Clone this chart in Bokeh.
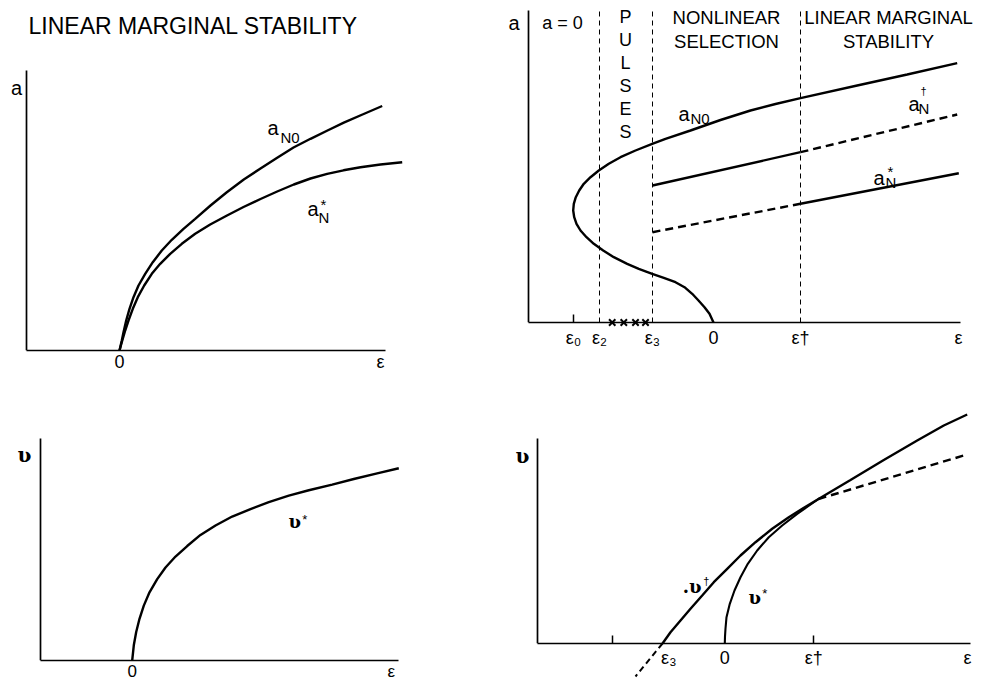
from bokeh.plotting import figure
from bokeh.models import Range1d, FixedTicker, Label
from bokeh.layouts import column, row
from bokeh.embed import file_html
from bokeh.resources import INLINE

# ---------------- data (schematic units) ----------------
# Panel A (top left): linear marginal stability
A_EPS_AXIS = (-0.93, 2.66)
A_AMP_TOP = 2.80
A_TICKS = [0.0, 2.61]
A_TICK_LABELS = ["0", "ε"]
A_N0_EPS = [0, 0.023, 0.04, 0.067, 0.10, 0.14, 0.19, 0.257, 0.333, 0.423, 0.523, 0.64,
            0.757, 0.91, 1.07, 1.243, 1.41, 1.577, 1.74, 1.91, 2.08, 2.243, 2.43, 2.627]
A_N0_AMP = [0, 0.10, 0.183, 0.30, 0.417, 0.533, 0.65, 0.767, 0.883, 1.00, 1.107, 1.217,
            1.317, 1.45, 1.58, 1.71, 1.82, 1.928, 2.03, 2.117, 2.20, 2.278, 2.36, 2.445]
A_NS_EPS = [0, 0.025, 0.057, 0.09, 0.133, 0.183, 0.247, 0.323, 0.407, 0.507, 0.623, 0.757,
            0.907, 1.075, 1.24, 1.41, 1.577, 1.743, 1.91, 2.077, 2.24, 2.41, 2.61, 2.827]
A_NS_AMP = [0, 0.09, 0.20, 0.30, 0.417, 0.533, 0.65, 0.767, 0.867, 0.967, 1.067, 1.167,
            1.26, 1.35, 1.435, 1.515, 1.59, 1.66, 1.72, 1.767, 1.802, 1.833, 1.86, 1.883]

# Panel B (top right): phase diagram
B_EPS_AXIS = (-1.85, 2.47)
B_AMP_TOP = 3.12
EPS0, EPS2, EPS3, EPS_DAG, EPS_END = -1.40, -1.14, -0.61, 0.87, 2.45
B_TICKS = [EPS0, EPS2, EPS3, 0.0, EPS_DAG, EPS_END]
B_TICK_LABELS = ["ε₀", "ε₂", "ε₃", "0", "ε†", "ε"]
B_DASHED_AT = [EPS2, EPS3, EPS_DAG]
B_CROSS_EPS = [-1.013, -0.897, -0.78, -0.68]
B_N0_EPS = [0, -0.04, -0.09, -0.15, -0.213, -0.29, -0.38, -0.497, -0.613, -0.747,
            -0.863, -0.997, -1.103, -1.197, -1.27, -1.33, -1.37, -1.393, -1.403, -1.397,
            -1.377, -1.343, -1.297, -1.23, -1.147, -1.047, -0.93, -0.78, -0.613, -0.48,
            -0.23, 0.07, 0.37, 0.62, 0.87, 1.437, 1.937, 2.437]
B_N0_AMP = [0, 0.087, 0.153, 0.22, 0.287, 0.353, 0.403, 0.447, 0.487, 0.537,
            0.587, 0.653, 0.72, 0.787, 0.853, 0.92, 0.987, 1.053, 1.12, 1.187,
            1.253, 1.32, 1.387, 1.453, 1.52, 1.587, 1.653, 1.72, 1.787, 1.837,
            1.92, 2.025, 2.12, 2.185, 2.243, 2.37, 2.48, 2.593]
B_DAG_EPS = [EPS3, EPS_DAG, 2.437]
B_DAG_AMP = [1.37, 1.703, 2.08]
B_STAR_EPS = [EPS3, EPS_DAG, 2.453]
B_STAR_AMP = [0.903, 1.187, 1.493]

# Panel C (bottom left): front velocity v*
C_EPS_AXIS = (-0.917, 2.666)
C_V_TOP = 2.237
C_TICKS = [0.0, 2.59]
C_TICK_LABELS = ["0", "ε"]
C_VS_EPS = [0, 0.016, 0.04, 0.073, 0.116, 0.173, 0.25, 0.333, 0.433, 0.55, 0.683, 0.833,
            1.0, 1.183, 1.366, 1.566, 1.766, 2.0, 2.216, 2.45, 2.666]
C_VS_V = [0, 0.153, 0.287, 0.42, 0.553, 0.687, 0.82, 0.937, 1.047, 1.153, 1.265, 1.36,
          1.45, 1.525, 1.595, 1.66, 1.715, 1.772, 1.828, 1.885, 1.937]

# Panel D (bottom right): front velocities v-dagger and v-star
D_EPS_AXIS = (-1.87, 2.457)
D_V_TOP = 2.047
D_TICKS = [-0.56, 0.0, 0.89, 2.427]
D_TICK_LABELS = ["ε₃", "0", "ε†", "ε"]
D_MINOR_TICKS = [-1.126, 0.89]
D_DAG_EPS = [-0.623, -0.543, -0.443, -0.343, -0.226, -0.11, 0.024, 0.157, 0.307, 0.474,
             0.64, 0.787, 0.937, 1.257, 1.59, 1.924, 2.19, 2.424]
D_DAG_V = [0, 0.113, 0.23, 0.347, 0.48, 0.613, 0.747, 0.88, 1.013, 1.147,
           1.263, 1.355, 1.445, 1.635, 1.835, 2.03, 2.18, 2.29]
D_TAIL_EPS = [-0.623, -0.893]
D_TAIL_V = [0.0, -0.33]
D_STAR_EPS = [0, 0.002, 0.007, 0.017, 0.05, 0.097, 0.157, 0.23, 0.324, 0.44, 0.574,
              0.724, 0.837, 0.937]
D_STAR_V = [0, 0.07, 0.15, 0.263, 0.397, 0.53, 0.663, 0.797, 0.93, 1.063, 1.18,
            1.297, 1.375, 1.445]
D_STAR_EXT_EPS = [0.937, 2.39]
D_STAR_EXT_V = [1.445, 1.88]

FONT = "Liberation Sans"
SERIF = "DejaVu Serif"
LW = 2.4
BORDER_L = 10


def make_fig(w, h, xr, yr, bottom):
    p = figure(width=w, height=h, x_range=Range1d(*xr), y_range=Range1d(*yr),
               output_backend="svg", toolbar_location=None,
               min_border_left=BORDER_L, min_border_bottom=bottom,
               min_border_top=0, min_border_right=0)
    p.grid.visible = False
    p.outline_line_color = None
    p.background_fill_color = "white"
    p.border_fill_color = "white"
    return p


def style_axes(p, ticks, labels, xbounds, ytop, yaxis_at, standoff, minor=None, size="18px"):
    xa = p.xaxis[0]
    xa.ticker = FixedTicker(ticks=ticks, minor_ticks=minor or [])
    xa.major_label_overrides = {t: l for t, l in zip(ticks, labels)}
    xa.bounds = xbounds
    xa.axis_line_width = 1.7
    xa.axis_line_color = "black"
    xa.major_tick_in = 0
    xa.major_tick_out = 0
    xa.minor_tick_in = 8
    xa.minor_tick_out = 0
    xa.minor_tick_line_width = 1.5
    xa.minor_tick_line_color = "black"
    xa.major_label_standoff = standoff
    xa.major_label_text_font = FONT
    xa.major_label_text_font_size = size
    xa.major_label_text_color = "black"
    ya = p.yaxis[0]
    ya.fixed_location = yaxis_at
    ya.ticker = FixedTicker(ticks=[])
    ya.bounds = (0, ytop)
    ya.axis_line_width = 1.7
    ya.axis_line_color = "black"
    ya.major_tick_in = 0
    ya.major_tick_out = 0
    ya.minor_tick_in = 0
    ya.minor_tick_out = 0
    ya.major_label_standoff = 0


def line(p, x, y, dash="solid", lw=LW):
    p.line(x, y, line_width=lw, color="black", line_dash=dash, level="overlay")


def lab(p, x, y, text, size, font=FONT, align="left", baseline="alphabetic",
        style="normal", lh=1.2):
    p.add_layout(Label(x=x, y=y, text=text, text_font=font, text_font_size=f"{size}px",
                       text_align=align, text_baseline=baseline, text_font_style=style,
                       text_color="black", text_line_height=lh))


# ---------------- Panel A ----------------
pA = make_fig(490, 388, (-1.09, 3.71), (0.0, 3.50), 38)
style_axes(pA, A_TICKS, A_TICK_LABELS, A_EPS_AXIS, A_AMP_TOP, A_EPS_AXIS[0], 1)
line(pA, A_N0_EPS, A_N0_AMP)
line(pA, A_NS_EPS, A_NS_AMP)
lab(pA, -0.91, 3.25, "LINEAR MARGINAL STABILITY", 23)
lab(pA, -1.085, 2.63, "a", 20)
lab(pA, 1.48, 2.23, "a", 20)
lab(pA, 1.61, 2.13, "N0", 15)
lab(pA, 1.88, 1.42, "a", 20)
lab(pA, 2.01, 1.46, "*", 15)
lab(pA, 1.99, 1.33, "N", 15)

# ---------------- Panel B ----------------
pB = make_fig(490, 360, (-2.13, 2.67), (0.0, 3.22), 38)
style_axes(pB, B_TICKS, B_TICK_LABELS, B_EPS_AXIS, B_AMP_TOP, B_EPS_AXIS[0], 5, minor=[EPS0])
pB.segment(x0=B_DASHED_AT, y0=[0.0] * 3, x1=B_DASHED_AT, y1=[B_AMP_TOP] * 3,
           line_dash="5 4", line_width=1, color="black", level="overlay")
line(pB, B_N0_EPS, B_N0_AMP)
line(pB, B_DAG_EPS[:2], B_DAG_AMP[:2])
line(pB, B_DAG_EPS[1:], B_DAG_AMP[1:], dash="8 5")
line(pB, B_STAR_EPS[:2], B_STAR_AMP[:2], dash="8 5")
line(pB, B_STAR_EPS[1:], B_STAR_AMP[1:])
pB.scatter(B_CROSS_EPS, [0.0] * 4, marker="x", size=9, line_width=2, color="black",
           level="overlay")
lab(pB, -2.05, 3.00, "a", 20)
lab(pB, -1.51, 3.00, "a = 0", 18, align="center")
lab(pB, -0.88, 3.16, "P\nU\nL\nS\nE\nS", 18, align="center", baseline="top", lh=1.15)
lab(pB, 0.13, 3.16, "NONLINEAR\nSELECTION", 18.5, align="center", baseline="top", lh=1.15)
lab(pB, 1.75, 3.16, "LINEAR MARGINAL\nSTABILITY", 18.5, align="center", baseline="top", lh=1.15)
lab(pB, -0.35, 2.09, "a", 20)
lab(pB, -0.23, 2.04, "N0", 15)
lab(pB, 1.95, 2.19, "a", 20)
lab(pB, 2.07, 2.315, "†", 11)
lab(pB, 2.05, 2.14, "N", 15)
lab(pB, 1.60, 1.45, "a", 20)
lab(pB, 1.74, 1.51, "*", 15)
lab(pB, 1.72, 1.40, "N", 15)

# ---------------- Panel C ----------------
pC = make_fig(490, 295, (-1.217, 3.583), (0.0, 2.74), 21)
style_axes(pC, C_TICKS, C_TICK_LABELS, C_EPS_AXIS, C_V_TOP, C_EPS_AXIS[0], 1, size="17px")
line(pC, C_VS_EPS, C_VS_V)
lab(pC, -1.147, 2.07, "ʋ", 20, font=SERIF, style="bold")
lab(pC, 1.563, 1.40, "ʋ", 18, font=SERIF, style="bold")
lab(pC, 1.70, 1.425, "*", 13)

# ---------------- Panel D ----------------
pD = make_fig(490, 323, (-2.243, 2.557), (0.0, 2.83), 40)
style_axes(pD, D_TICKS, D_TICK_LABELS, D_EPS_AXIS, D_V_TOP, D_EPS_AXIS[0], 4,
           minor=D_MINOR_TICKS)
line(pD, D_DAG_EPS, D_DAG_V)
line(pD, D_TAIL_EPS, D_TAIL_V, dash="6 4", lw=2.0)
line(pD, D_STAR_EPS, D_STAR_V, lw=2.1)
line(pD, D_STAR_EXT_EPS, D_STAR_EXT_V, dash="8 5")
lab(pD, -2.093, 1.88, "ʋ", 20, font=SERIF, style="bold")
lab(pD, -0.42, 0.575, ".ʋ", 18, font=SERIF, style="bold")
lab(pD, -0.215, 0.625, "†", 11)
lab(pD, 0.237, 0.46, "ʋ", 18, font=SERIF, style="bold")
lab(pD, 0.375, 0.50, "*", 13)

layout = row(column(pA, pC), column(pB, pD))
open("out.html", "w").write(file_html(layout, INLINE))
